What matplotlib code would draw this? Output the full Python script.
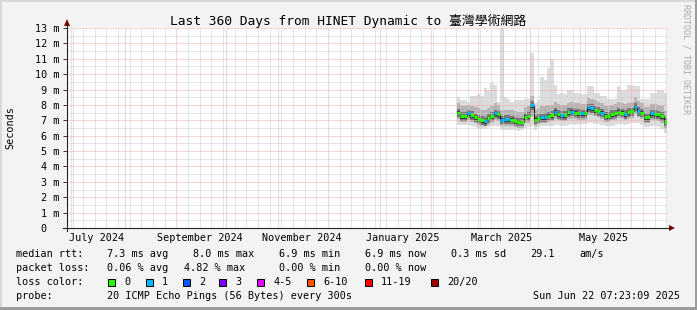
import numpy as np
import matplotlib
matplotlib.use("Agg")
import matplotlib.pyplot as plt
import matplotlib.dates as mdates
from matplotlib.patches import Rectangle, Polygon
from matplotlib.lines import Line2D
from matplotlib.ticker import MultipleLocator
from datetime import datetime, timedelta

# time frame of the graph
end_time = datetime(2025, 6, 22, 7, 23, 9)
start_time = end_time - timedelta(days=360)
data_start = datetime(2025, 2, 16, 7, 23, 9)
step_days = 2

# median rtt per 2-day step (ms)
median_ms = [7.50, 7.28, 7.28, 7.45, 7.33, 7.19, 7.10, 7.02, 6.95, 7.13,
             7.28, 7.45, 7.38, 7.05, 7.07, 7.07, 7.05, 6.95, 6.92, 6.90,
             7.24, 7.26, 8.00, 7.05, 7.15, 7.19, 7.22, 7.30, 7.35, 7.56,
             7.40, 7.35, 7.35, 7.52, 7.56, 7.50, 7.48, 7.45, 7.45, 7.84,
             7.80, 7.67, 7.60, 7.50, 7.30, 7.28, 7.40, 7.45, 7.56, 7.50,
             7.40, 7.52, 7.58, 7.89, 7.60, 7.50, 7.19, 7.20, 7.45, 7.40,
             7.38, 7.28, 6.90]
# loss class per step (index into loss_colors)
loss_band = [0, 0, 0, 1, 0, 0, 0, 0, 1, 0,
             0, 1, 0, 1, 1, 1, 0, 0, 0, 0,
             0, 0, 1, 0, 0, 1, 1, 0, 0, 1,
             0, 1, 0, 0, 1, 0, 0, 1, 0, 1,
             1, 0, 0, 1, 0, 0, 0, 0, 0, 0,
             1, 0, 0, 1, 1, 0, 0, 0, 1, 0,
             0, 0, 0]
# smoke envelope (ms)
smoke_max = [8.5, 8.3, 8.3, 8.2, 8.6, 8.6, 8.7, 8.6, 9.1, 9.0,
             9.4, 9.3, 8.2, 13.3, 8.5, 8.4, 8.2, 8.3, 8.3, 8.3,
             8.4, 8.4, 11.4, 8.1, 8.3, 9.8, 9.6, 10.4, 11.0, 9.3,
             8.7, 8.8, 8.7, 9.0, 9.0, 8.8, 8.8, 8.7, 8.7, 9.2,
             9.2, 8.8, 8.8, 8.6, 8.6, 8.4, 8.4, 8.4, 9.2, 9.0,
             9.0, 9.3, 9.3, 9.2, 9.2, 8.4, 8.4, 8.4, 8.8, 8.8,
             9.0, 9.0, 8.8]
smoke_hi = [8.1, 7.9, 7.9, 8.0, 7.95, 7.85, 7.8, 7.7, 7.7, 7.8,
            7.95, 8.1, 8.0, 7.7, 7.7, 7.7, 7.65, 7.6, 7.55, 7.55,
            7.85, 7.9, 8.6, 7.7, 7.8, 7.9, 7.95, 8.0, 8.0, 8.2,
            8.05, 8.0, 8.0, 8.15, 8.2, 8.1, 8.1, 8.05, 8.05, 8.45,
            8.4, 8.3, 8.2, 8.1, 7.95, 7.9, 8.0, 8.05, 8.2, 8.15,
            8.05, 8.15, 8.2, 8.5, 8.25, 8.1, 7.85, 7.85, 8.05, 8.05,
            8.0, 7.9, 7.6]
smoke_lo = [7.1, 6.9, 6.9, 7.0, 6.9, 6.8, 6.7, 6.65, 6.6, 6.7,
            6.85, 7.0, 6.95, 6.65, 6.65, 6.65, 6.6, 6.55, 6.5, 6.5,
            6.8, 6.85, 7.3, 6.65, 6.75, 6.8, 6.8, 6.9, 6.95, 7.1,
            7.0, 6.95, 6.95, 7.1, 7.1, 7.1, 7.05, 7.05, 7.05, 7.35,
            7.35, 7.25, 7.2, 7.1, 6.9, 6.9, 7.0, 7.05, 7.15, 7.1,
            7.0, 7.1, 7.15, 7.4, 7.2, 7.1, 6.8, 6.8, 7.05, 7.0,
            6.95, 6.85, 6.5]
smoke_min = [6.7, 6.7, 6.7, 6.7, 6.65, 6.55, 6.5, 6.45, 6.45, 6.55,
             6.6, 6.65, 6.6, 6.4, 6.4, 6.35, 6.35, 6.35, 6.3, 6.35,
             6.5, 6.55, 6.6, 6.4, 6.55, 6.6, 6.6, 6.65, 6.65, 6.7,
             6.7, 6.65, 6.65, 6.7, 6.75, 6.7, 6.75, 6.75, 6.75, 6.8,
             6.8, 6.75, 6.75, 6.7, 6.65, 6.6, 6.65, 6.7, 6.75, 6.75,
             6.7, 6.75, 6.8, 6.85, 6.8, 6.7, 6.55, 6.55, 6.65, 6.6,
             6.55, 6.45, 6.2]

loss_labels = ["0", "1", "2", "3", "4-5", "6-10", "11-19", "20/20"]
loss_colors = ["#26ff00", "#00b8ff", "#0059ff", "#7e00ff",
               "#dd00ff", "#ff5500", "#ff0000", "#a10000"]

title = "Last 360 Days from HINET Dynamic to 臺灣學術網路"
month_labels = [(datetime(2024, 7, 15), "July 2024"),
                (datetime(2024, 9, 15), "September 2024"),
                (datetime(2024, 11, 15), "November 2024"),
                (datetime(2025, 1, 15), "January 2025"),
                (datetime(2025, 3, 15), "March 2025"),
                (datetime(2025, 5, 15), "May 2025")]

W, H = 697, 310
MONO = ["DejaVu Sans Mono", "Noto Sans CJK TC"]
FS = 7.3
BG = "#f3f3f3"


def fx(x):
    return x / W


def fy(y):
    return 1 - y / H


fig = plt.figure(figsize=(W / 100, H / 100), dpi=100, facecolor=BG)
ax = fig.add_axes([fx(67), fy(228), 600 / W, 200 / H])
ax.set_facecolor("white")

edges = mdates.date2num([data_start + timedelta(days=step_days * i) for i in range(len(median_ms) + 1)])
med = np.array(median_ms)


def ext(a):
    a = np.asarray(a, dtype=float)
    return np.append(a, a[-1])


# smoke
ax.fill_between(edges, ext(smoke_min), ext(smoke_max), step="post", color="#dcdcdc", lw=0, zorder=1)
ax.fill_between(edges, ext(smoke_lo), ext(smoke_hi), step="post", color="#b4b4b4", lw=0, zorder=1)
ax.fill_between(edges, ext(med - 0.3), ext(med + 0.25), step="post", color="#787878", lw=0, zorder=1)
ax.fill_between(edges, ext(med - 0.17), ext(med + 0.08), step="post", color="#383838", lw=0, zorder=1)

# median line coloured by loss
ax.step(edges, ext(med), where="post", color="#202020", lw=0.8, zorder=2)
for i, v in enumerate(median_ms):
    ax.hlines(v, edges[i], edges[i + 1], color=loss_colors[loss_band[i]], lw=2.2, zorder=3)

ax.set_xlim(mdates.date2num(start_time), mdates.date2num(end_time))
ax.set_ylim(0, 13)

# grid (rrdtool draws it over the graph)
ax.xaxis.set_major_locator(mdates.MonthLocator())
ax.xaxis.set_minor_locator(mdates.WeekdayLocator(byweekday=mdates.SU))
ax.yaxis.set_major_locator(MultipleLocator(1))
ax.yaxis.set_minor_locator(MultipleLocator(0.5))
ax.grid(which="minor", color="#cdcdcd", ls=(0, (1, 1)), lw=0.72, zorder=4)
ax.grid(which="major", color="#f4aaaa", ls=(0, (1, 1)), lw=0.72, zorder=4)
ax.set_axisbelow(False)

ax.tick_params(axis="x", which="both", length=0, labelbottom=False)
ax.tick_params(axis="y", which="minor", length=0)
ax.tick_params(axis="y", which="major", length=3, width=0.7, color="#333333", pad=2.6)
ax.set_yticks(range(14))
ax.set_yticklabels(["0  "] + [f"{v} m" for v in range(1, 14)], family=MONO, fontsize=FS)
for s in ax.spines.values():
    s.set_visible(False)

for d, lab in month_labels:
    ax.text(mdates.date2num(d), -10 / 200, lab, ha="center", va="center",
            family=MONO, fontsize=FS, transform=ax.get_xaxis_transform())

# axes with arrows
fig.add_artist(Line2D([fx(67), fx(67)], [fy(231), fy(24)], color="#222222", lw=0.8))
fig.add_artist(Line2D([fx(63), fx(670)], [fy(228), fy(228)], color="#222222", lw=0.8))
fig.add_artist(Polygon([(fx(64), fy(26)), (fx(70), fy(26)), (fx(67), fy(19))],
                       closed=True, color="#7f0000", lw=0))
fig.add_artist(Polygon([(fx(669), fy(225)), (fx(669), fy(231)), (fx(675), fy(228))],
                       closed=True, color="#7f0000", lw=0))

# texts
fig.text(fx(348), fy(21), title, ha="center", va="center", family=MONO, fontsize=9.3)
fig.text(fx(10), fy(128), "Seconds", rotation=90, ha="center", va="center", family=MONO, fontsize=FS)
fig.text(fx(686), fy(4), "RRDTOOL / TOBI OETIKER", rotation=270, ha="center", va="top",
         family=MONO, fontsize=6, color="#a8a8a8")

rows = [
    (254, [(16, "median rtt:"), (107, "7.3 ms avg"), (193, "8.0 ms max"), (279, "6.9 ms min"),
           (365, "6.9 ms now"), (451, "0.3 ms sd"), (530, "29.1"), (579, "am/s")]),
    (268, [(16, "packet loss:"), (107, "0.06 % avg"), (184, "4.82 % max"), (279, "0.00 % min"),
           (365, "0.00 % now")]),
    (282, [(16, "loss color:")]),
    (296, [(16, "probe:"), (107, "20 ICMP Echo Pings (56 Bytes) every 300s")]),
]
for y, items in rows:
    for x, t in items:
        fig.text(fx(x), fy(y), t, ha="left", va="center", family=MONO, fontsize=FS)
fig.text(fx(680), fy(296), "Sun Jun 22 07:23:09 2025", ha="right", va="center", family=MONO, fontsize=FS)

box_x = [108, 146, 183, 219, 257, 307, 365, 431]
for bx, lab, col in zip(box_x, loss_labels, loss_colors):
    fig.add_artist(Rectangle((fx(bx), fy(286)), 7 / W, 7 / H, facecolor=col, edgecolor="black", lw=0.7))
    fig.text(fx(bx + 16), fy(282), lab, ha="left", va="center", family=MONO, fontsize=FS)

# frame
fig.add_artist(Rectangle((0, fy(2)), 1, 2 / H, color="#d8d8d8", lw=0))
fig.add_artist(Rectangle((0, 0), 2 / W, 1, color="#d8d8d8", lw=0))
fig.add_artist(Rectangle((fx(695), 0), 2 / W, 1, color="#9c9c9c", lw=0))
fig.add_artist(Rectangle((0, 0), 1, 3 / H, color="#9c9c9c", lw=0))

fig.savefig("out.png", dpi=100, facecolor=BG)
